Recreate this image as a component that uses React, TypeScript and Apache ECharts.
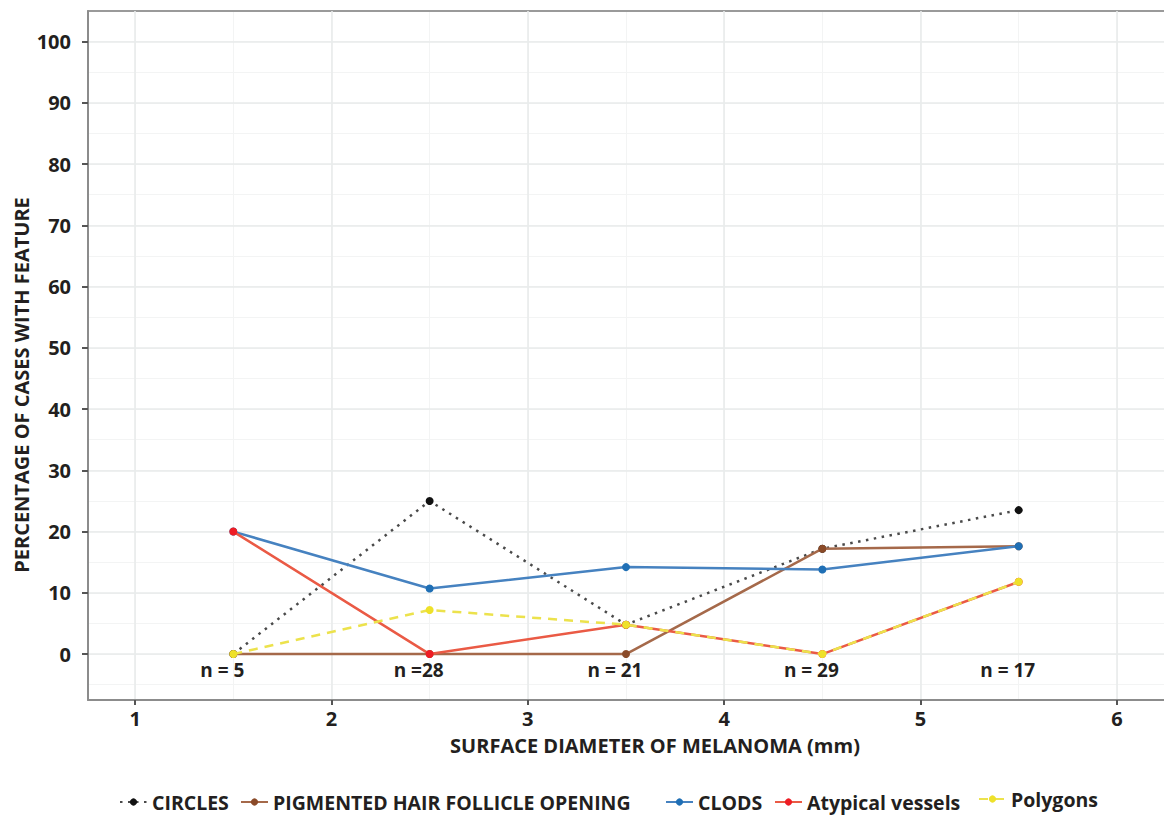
import React, { useEffect, useRef } from "react";
import * as echarts from "echarts";

const xPositions = [1.5, 2.5, 3.5, 4.5, 5.5];
const circles = [0, 25, 4.8, 17.2, 23.5];
const hairFollicle = [0, 0, 0, 17.2, 17.6];
const clods = [20, 10.7, 14.2, 13.8, 17.6];
const atypicalVessels = [20, 0, 4.8, 0, 11.8];
const polygons = [0, 7.2, 4.8, 0, 11.8];
const sampleSizes = ["n = 5", "n =28", "n = 21", "n = 29", "n = 17"];
const sampleLabelY = -2.6;

const seriesNames = [
  "CIRCLES",
  "PIGMENTED HAIR FOLLICLE OPENING",
  "CLODS",
  "Atypical vessels",
  "Polygons",
];

const FONT = "'Open Sans', 'Noto Sans', sans-serif";
const TEXT = "#231f20";
const AXIS = "#8c8c8c";

function pts(vals: number[]) {
  return xPositions.map((x, i) => [x, vals[i]]);
}

export default function App() {
  const ref = useRef<HTMLDivElement>(null);
  useEffect(() => {
    if (!ref.current) return;
    const chart = echarts.init(ref.current, undefined, { renderer: "svg" });
    const legendLefts = [119, 240, 665, 774, 978];
    const legendTops = [792, 792, 792, 792, 789];
    const line = (
      name: string,
      vals: number[],
      lineColor: string,
      dotColor: string,
      type: any,
      z: number
    ) => ({
      name,
      type: "line",
      xAxisIndex: 0,
      yAxisIndex: 0,
      data: pts(vals),
      symbol: "circle",
      symbolSize: 8,
      z,
      lineStyle: { color: lineColor, width: 2.5, type },
      itemStyle: { color: dotColor },
      emphasis: { disabled: true },
    });
    const option: any = {
      animation: false,
      grid: { left: 88, top: 11, right: -2, bottom: 116, containLabel: false },
      legend: seriesNames.map((n, i) => ({
        data: [n],
        left: legendLefts[i],
        top: legendTops[i],
        padding: 0,
        itemWidth: 27,
        itemHeight: 9,
        itemGap: 0,
        selectedMode: false,
        textStyle: { fontFamily: FONT, fontWeight: "bold", fontSize: 19.5, color: TEXT },
      })),
      xAxis: [
        {
          type: "value",
          min: 0.76,
          max: 6.24,
          splitNumber: 5,
          position: "bottom",
          z: 1,
          axisLine: { show: true, onZero: false, lineStyle: { color: AXIS, width: 2 } },
          axisTick: { show: true, length: 5, lineStyle: { color: "#555", width: 2 }, customValues: [1, 2, 3, 4, 5, 6] },
          axisLabel: {
            showMinLabel: false,
            showMaxLabel: false,
            fontFamily: FONT,
            fontWeight: "bold",
            fontSize: 20,
            color: TEXT,
            margin: 8,
          },
          splitLine: { show: true, lineStyle: { color: "#e9ebeb", width: 1.6 } },
        },
        {
          type: "value",
          min: 0.76,
          max: 6.24,
          splitNumber: 11,
          position: "top",
          z: 0,
          axisLine: { show: true, onZero: false, lineStyle: { color: "#9a9a9a", width: 2 } },
          axisTick: { show: false },
          axisLabel: { show: false },
          splitLine: { show: true, lineStyle: { color: "#f3f4f4", width: 1 } },
        },
      ],
      yAxis: [
        {
          type: "value",
          min: -7.5,
          max: 105,
          splitNumber: 11,
          position: "left",
          z: 1,
          axisLine: { show: true, onZero: false, lineStyle: { color: AXIS, width: 2 } },
          axisTick: {
            show: true,
            length: 6,
            lineStyle: { color: "#555", width: 2 },
            customValues: [0, 10, 20, 30, 40, 50, 60, 70, 80, 90, 100],
          },
          axisLabel: {
            showMinLabel: false,
            showMaxLabel: false,
            fontFamily: FONT,
            fontWeight: "bold",
            fontSize: 20,
            color: TEXT,
            margin: 17,
          },
          splitLine: { show: true, lineStyle: { color: "#e9ebeb", width: 1.6 } },
        },
        {
          type: "value",
          min: -7.5,
          max: 105,
          splitNumber: 22,
          position: "right",
          z: 0,
          axisLine: { show: false },
          axisTick: { show: false },
          axisLabel: { show: false },
          splitLine: { show: true, lineStyle: { color: "#f3f4f4", width: 1 } },
        },
      ],
      series: [
        line(seriesNames[0], circles, "#4a4a4a", "#111111", [2.5, 5.5], 2),
        line(seriesNames[1], hairFollicle, "#a5694a", "#8a4a28", "solid", 3),
        line(seriesNames[2], clods, "#4682c0", "#1f6fb5", "solid", 4),
        line(seriesNames[3], atypicalVessels, "#ea5a45", "#ee1c24", "solid", 5),
        line(seriesNames[4], polygons, "#ece24c", "#eee12a", [9, 7], 6),
        {
          name: "sampleSizes",
          type: "scatter",
          xAxisIndex: 0,
          yAxisIndex: 0,
          data: xPositions.map((x) => [x, sampleLabelY]),
          symbolSize: 2,
          itemStyle: { color: "rgba(0,0,0,0)", opacity: 1 },
          silent: true,
          labelLayout: { hideOverlap: false },
          label: {
            show: true,
            position: [-10, 1],
            align: "center",
            verticalAlign: "middle",
            formatter: (p: any) => sampleSizes[p.dataIndex],
            fontFamily: FONT,
            fontWeight: "bold",
            fontSize: 19,
            color: TEXT,
            opacity: 1,
          },
          z: 7,
        },
      ],
      graphic: [
        {
          type: "text",
          x: 655,
          y: 745,
          style: {
            text: "SURFACE DIAMETER OF MELANOMA (mm)",
            font: `bold 20px ${FONT}`,
            fill: TEXT,
            textAlign: "center",
            textVerticalAlign: "middle",
          },
        },
        {
          type: "text",
          x: 21,
          y: 385,
          rotation: Math.PI / 2,
          style: {
            text: "PERCENTAGE OF CASES WITH FEATURE",
            font: `bold 20px ${FONT}`,
            fill: TEXT,
            textAlign: "center",
            textVerticalAlign: "middle",
          },
        },
      ],
    };
    chart.setOption(option);
    return () => chart.dispose();
  }, []);
  return (
    <div
      ref={ref}
      style={{ position: "fixed", left: 0, top: 0, width: 1164, height: 816, background: "#fff" }}
    />
  );
}
